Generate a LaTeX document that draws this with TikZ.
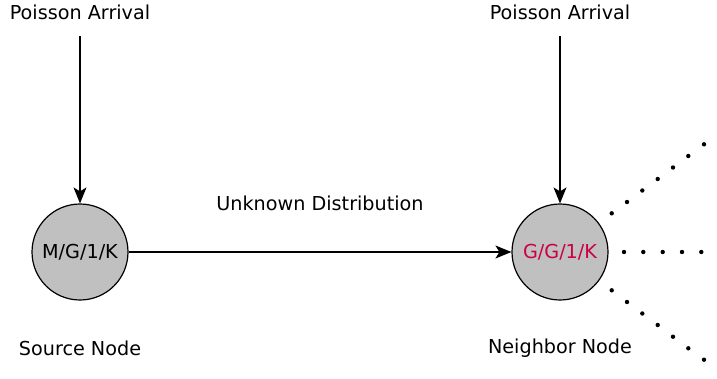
\documentclass[tikz,border=0pt]{standalone}
\usepackage{fontspec}
\setmainfont{DejaVu Sans}
\usetikzlibrary{arrows.meta}
\definecolor{nodegray}{RGB}{192,192,192}
\definecolor{qred}{RGB}{204,0,68}
\tikzset{
  queue/.style={circle, draw=black, line width=1.2pt, fill=nodegray, minimum size=96pt, inner sep=0pt, font=\fontsize{19.2}{23}\selectfont},
  lbl/.style={font=\fontsize{19.2}{23}\selectfont, inner sep=0pt},
  arr/.style={line width=1.2pt, -{Stealth[length=16pt,width=13pt,inset=4pt]}},
  dot/.style={circle, fill=black, minimum size=4.4pt, inner sep=0pt}
}
\begin{document}
\begin{tikzpicture}[x=1pt,y=-1pt]
\useasboundingbox (0,0) rectangle (717,378);
\node[queue] (src) at (80,252) {M/G/1/K};
\node[queue, text=qred] (nb) at (560,252) {G/G/1/K};
\node[lbl] (pa1) at (80,12) {Poisson Arrival};
\node[lbl] (pa2) at (560,12) {Poisson Arrival};
\node[lbl] (ud) at (320,203) {Unknown Distribution};
\node[lbl] (sn) at (80,348) {Source Node};
\node[lbl] (nn) at (560,348) {Neighbor Node};
\coordinate (s1) at (80,36);
\coordinate (s2) at (560,36);
\draw[arr] (s1) -- (src.north);
\draw[arr] (s2) -- (nb.north);
\draw[arr] (src.east) -- (nb.west);
\foreach \x/\y [count=\i] in {611.7/213.3,627/202,642.3/190.5,657.7/179,673/167.5,688.3/156,704/144.3}{
  \node[dot] (u\i) at (\x,\y) {};
}
\foreach \x [count=\i] in {624,643.3,662.7,682,701.3}{
  \node[dot] (h\i) at (\x,252) {};
}
\foreach \x/\y [count=\i] in {611.7/290.3,627/302,642.3/313.5,657.7/325,673/336.7,688.3/348.3,704/359.7}{
  \node[dot] (l\i) at (\x,\y) {};
}
\end{tikzpicture}
\end{document}
